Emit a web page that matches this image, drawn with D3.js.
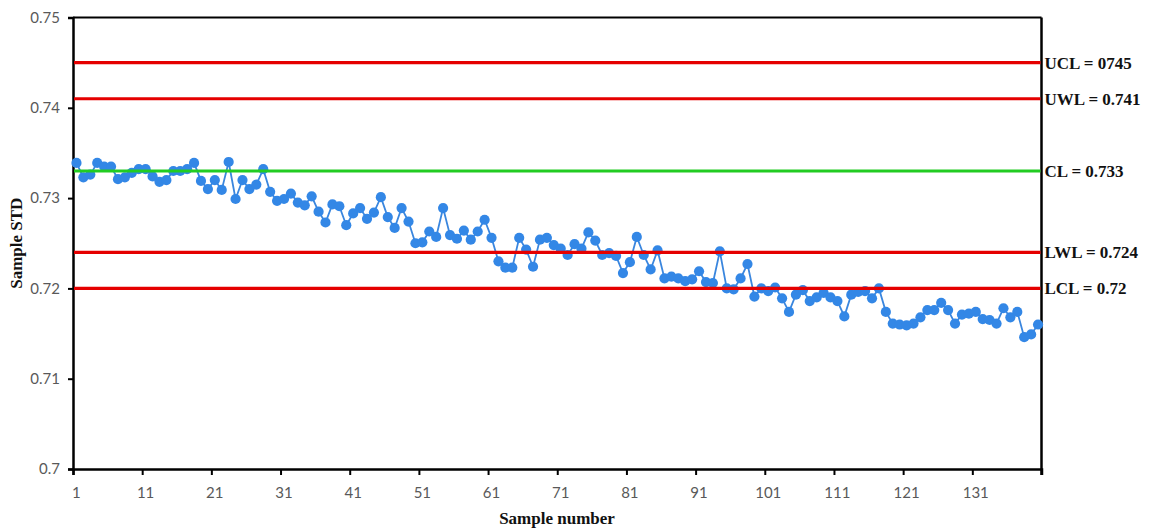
<!DOCTYPE html>
<html>
<head>
<meta charset="utf-8">
<script src="https://cdn.jsdelivr.net/npm/d3@7"></script>
<style>
  html, body { margin: 0; padding: 0; background: #fff; }
  svg { display: block; }
</style>
</head>
<body>
<svg id="chart" width="1149" height="528"></svg>
<script>
// Sample standard deviation for each of the 140 samples
const sampleStd = [
  0.7339, 0.7323, 0.7326, 0.7339, 0.7335, 0.7335, 0.7321, 0.7323, 0.7328, 0.7332,
  0.7332, 0.7324, 0.7318, 0.7320, 0.7330, 0.7330, 0.7332, 0.7339, 0.7319, 0.7310,
  0.7320, 0.7309, 0.7340, 0.7299, 0.7320, 0.7310, 0.7315, 0.7332, 0.7307, 0.7297,
  0.7299, 0.7305, 0.7295, 0.7292, 0.7302, 0.7285, 0.7273, 0.7293, 0.7291, 0.7270,
  0.7283, 0.7289, 0.7277, 0.7284, 0.7301, 0.7279, 0.7267, 0.7289, 0.7274, 0.7250,
  0.7251, 0.7263, 0.7257, 0.7289, 0.7259, 0.7255, 0.7264, 0.7254, 0.7263, 0.7276,
  0.7256, 0.7230, 0.7223, 0.7223, 0.7256, 0.7243, 0.7224, 0.7254, 0.7256, 0.7248,
  0.7244, 0.7237, 0.7249, 0.7244, 0.7262, 0.7253, 0.7237, 0.7239, 0.7236, 0.7217,
  0.7229, 0.7257, 0.7237, 0.7221, 0.7242, 0.7211, 0.7213, 0.7211, 0.7208, 0.7210,
  0.7219, 0.7207, 0.7206, 0.7241, 0.7200, 0.7199, 0.7211, 0.7227, 0.7191, 0.7200,
  0.7197, 0.7201, 0.7189, 0.7174, 0.7193, 0.7198, 0.7186, 0.7190, 0.7195, 0.7190,
  0.7186, 0.7169, 0.7193, 0.7196, 0.7197, 0.7189, 0.7200, 0.7174, 0.7161, 0.7160,
  0.7159, 0.7161, 0.7168, 0.7176, 0.7176, 0.7184, 0.7176, 0.7161, 0.7171, 0.7172,
  0.7174, 0.7166, 0.7165, 0.7161, 0.7178, 0.7168, 0.7174, 0.7146, 0.7149, 0.7160
];
const sampleNumbers = sampleStd.map((_, i) => i + 1);

// Control and warning limits
const limitNames  = ["UCL", "UWL", "CL", "LWL", "LCL"];
const limitValues = [0.745, 0.741, 0.733, 0.724, 0.72];
const limitLabels = ["UCL = 0745", "UWL = 0.741", "CL = 0.733", "LWL = 0.724", "LCL = 0.72"];

// Axis ticks
const yTicks = [0.70, 0.71, 0.72, 0.73, 0.74, 0.75];
const yTickLabels = ["0.7", "0.71", "0.72", "0.73", "0.74", "0.75"];
const xLabelSamples = [1, 11, 21, 31, 41, 51, 61, 71, 81, 91, 101, 111, 121, 131];

const svg = d3.select("#chart");
const plot = { left: 73, right: 1041.5, top: 17.5, bottom: 469 };

const x = d3.scaleLinear().domain([0.5, sampleStd.length + 0.5]).range([plot.left, plot.right]);
const y = d3.scaleLinear().domain([0.70, 0.75]).range([plot.bottom, plot.top]);

const tickFont = "Lato, 'Open Sans', sans-serif";
const titleFont = "'Liberation Serif', 'Times New Roman', serif";

// Y axis
const yAxis = d3.axisLeft(y).tickValues(yTicks)
  .tickFormat((d, i) => yTickLabels[i]).tickSizeOuter(0).tickSize(5).tickPadding(8);
const gy = svg.append("g").attr("transform", `translate(${plot.left},0)`).call(yAxis);
gy.select(".domain").attr("stroke", "#000").attr("stroke-width", 2.5);
gy.selectAll(".tick line").attr("stroke", "#000").attr("stroke-width", 2);
gy.selectAll(".tick text").attr("fill", "#595959").style("font-family", tickFont).style("font-size", "15px");

// X axis: tick marks on category boundaries, labels on category centres
const boundaryTicks = d3.range(0.5, sampleStd.length + 1, 10);
const xAxis = d3.axisBottom(x).tickValues(boundaryTicks).tickFormat("").tickSizeOuter(0).tickSize(6);
const gx = svg.append("g").attr("transform", `translate(0,${plot.bottom})`).call(xAxis);
gx.select(".domain").attr("stroke", "#000").attr("stroke-width", 2.5);
gx.selectAll(".tick line").attr("stroke", "#000").attr("stroke-width", 2);

svg.append("g").selectAll("text").data(xLabelSamples).join("text")
  .attr("x", d => x(d)).attr("y", plot.bottom + 29)
  .attr("text-anchor", "middle")
  .attr("fill", "#595959").style("font-family", tickFont).style("font-size", "15px")
  .text(d => d);

// Top and right border of the plot area
svg.append("line").attr("x1", plot.left).attr("x2", plot.right)
  .attr("y1", plot.top).attr("y2", plot.top).attr("stroke", "#000").attr("stroke-width", 2);
svg.append("line").attr("x1", plot.right).attr("x2", plot.right)
  .attr("y1", plot.top).attr("y2", plot.bottom + 6).attr("stroke", "#000").attr("stroke-width", 2.5);

// Data line and markers
const line = d3.line().x((d, i) => x(sampleNumbers[i])).y(d => y(d));
svg.append("path").datum(sampleStd)
  .attr("d", line).attr("fill", "none")
  .attr("stroke", "#3a86de").attr("stroke-width", 1.8);
svg.append("g").selectAll("circle").data(sampleStd).join("circle")
  .attr("cx", (d, i) => x(sampleNumbers[i])).attr("cy", d => y(d))
  .attr("r", 5.1).attr("fill", "#3387e6");

// Control limit lines drawn over the data
svg.append("g").selectAll("line").data(limitValues).join("line")
  .attr("x1", plot.left + 1).attr("x2", plot.right - 1)
  .attr("y1", d => y(d)).attr("y2", d => y(d))
  .attr("stroke", (d, i) => limitNames[i] === "CL" ? "#22cc22" : "#e50000")
  .attr("stroke-width", 3.2);

svg.append("g").selectAll("text").data(limitValues).join("text")
  .attr("x", plot.right + 3).attr("y", d => y(d)).attr("dy", "0.35em")
  .style("font-family", titleFont).style("font-weight", "bold").style("font-size", "17px")
  .attr("fill", "#111")
  .text((d, i) => limitLabels[i]);

// Axis titles
svg.append("text")
  .attr("transform", `translate(22,${(plot.top + plot.bottom) / 2}) rotate(-90)`)
  .attr("text-anchor", "middle")
  .style("font-family", titleFont).style("font-weight", "bold").style("font-size", "17px")
  .attr("fill", "#111").text("Sample STD");
svg.append("text")
  .attr("x", 557).attr("y", 524).attr("text-anchor", "middle")
  .style("font-family", titleFont).style("font-weight", "bold").style("font-size", "17px")
  .attr("fill", "#111").text("Sample number");
</script>
</body>
</html>
